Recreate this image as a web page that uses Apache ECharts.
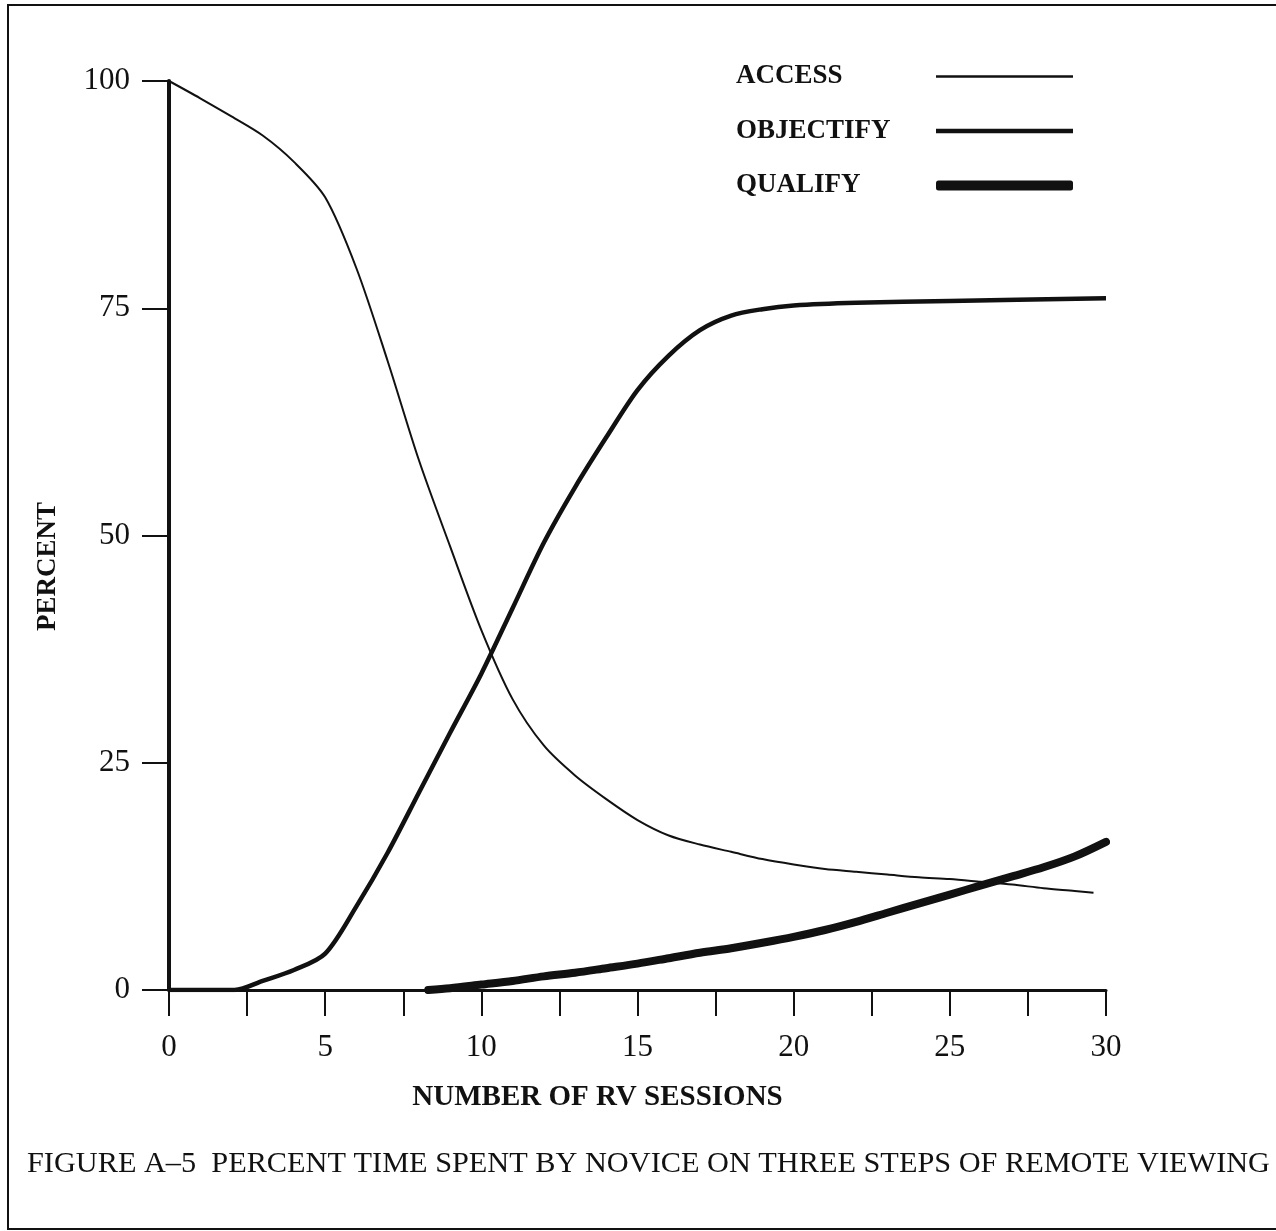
<!DOCTYPE html>
<html>
<head>
<meta charset="utf-8">
<title>Figure A-5</title>
<script src="https://cdn.jsdelivr.net/npm/echarts@6/dist/echarts.min.js"></script>
<style>
  html, body { margin: 0; padding: 0; background: #fff; }
  #main { width: 1276px; height: 1231px; }
</style>
</head>
<body>
<div id="main"></div>
<script>
// values
var accessX = [0, 1, 2, 3, 4, 5, 6, 7, 8, 9, 10, 11, 12, 13, 14, 15, 16, 17, 18, 19, 20, 21, 22, 23, 24, 25, 26, 27, 28, 29, 29.6];
var accessY = [100, 98.1, 96.1, 94.0, 91.1, 87.2, 79.4, 69.2, 58.3, 48.8, 39.6, 32.0, 26.9, 23.6, 21.0, 18.7, 17.0, 16.0, 15.2, 14.4, 13.8, 13.3, 13.0, 12.7, 12.4, 12.2, 11.9, 11.6, 11.2, 10.9, 10.7];

var objectifyX = [0, 1, 2.1, 3, 4, 5, 6, 7, 8, 9, 10, 11, 12, 13, 14, 15, 16, 17, 18, 19, 20, 22, 25, 30];
var objectifyY = [0, 0, 0, 1.0, 2.2, 4.0, 9.2, 15.1, 21.7, 28.3, 34.8, 42.0, 49.2, 55.3, 60.8, 66.0, 69.8, 72.6, 74.2, 74.9, 75.3, 75.6, 75.8, 76.1];

var qualifyX = [8.3, 9, 10, 11, 12, 13, 14, 15, 16, 17, 18, 19, 20, 21, 22, 23, 24, 25, 26, 27, 28, 29, 30];
var qualifyY = [0, 0.2, 0.6, 1.0, 1.5, 1.9, 2.4, 2.9, 3.5, 4.1, 4.6, 5.2, 5.85, 6.6, 7.5, 8.5, 9.5, 10.5, 11.5, 12.5, 13.5, 14.7, 16.3];

var yTicks = [0, 25, 50, 75, 100];
var caption = 'FIGURE A\u20135  PERCENT TIME SPENT BY NOVICE ON THREE STEPS OF REMOTE VIEWING';

var ink = '#111';
var serif = '"Liberation Serif", "Times New Roman", serif';

function pairs(xs, ys) {
  return xs.map(function (x, i) { return [x, ys[i]]; });
}

var chart = echarts.init(document.getElementById('main'));

var option = {
  backgroundColor: '#fff',
  animation: false,
  title: {
    text: caption,
    left: 22,
    top: 1144,
    textStyle: { fontFamily: serif, fontSize: 30.3, fontWeight: 'normal', color: ink }
  },
  legend: {
    orient: 'vertical',
    left: 731,
    top: 58,
    align: 'right',
    itemWidth: 137,
    itemHeight: 10,
    itemGap: 27.5,
    formatter: '{n|{name}}',
    textStyle: {
      rich: {
        n: { width: 195, align: 'left', lineHeight: 30, fontFamily: serif, fontSize: 27, fontWeight: 'bold', color: ink }
      }
    },
    data: [
      { name: 'ACCESS', icon: 'path://M0,0H137V2.5H0Z' },
      { name: 'OBJECTIFY', icon: 'path://M0,0H137V4.5H0Z' },
      { name: 'QUALIFY', icon: 'roundRect' }
    ]
  },
  graphic: [
    // frame of the scanned page
    { type: 'polyline', shape: { points: [[1290, 5], [8, 5], [8, 1229], [1290, 1229]] },
      style: { stroke: ink, lineWidth: 2, fill: null }, silent: true }
  ],
  grid: { left: 169, right: 170, top: 81, bottom: 241 },
  xAxis: {
    type: 'value',
    min: 0,
    max: 30,
    interval: 2.5,
    name: 'NUMBER OF RV SESSIONS',
    nameLocation: 'middle',
    nameGap: 93,
    nameTextStyle: { fontFamily: serif, fontSize: 29, fontWeight: 'bold', color: ink, padding: [0, 80, 0, 0] },
    axisLine: { lineStyle: { color: ink, width: 3 } },
    axisTick: { length: 26, lineStyle: { color: ink, width: 2 } },
    axisLabel: {
      margin: 42,
      fontFamily: serif, fontSize: 31, color: ink,
      formatter: function (v) { return v % 5 === 0 ? String(v) : ''; }
    },
    splitLine: { show: false }
  },
  yAxis: {
    type: 'value',
    min: 0,
    max: 100,
    interval: 25,
    name: 'PERCENT',
    nameLocation: 'middle',
    nameGap: 107,
    nameTextStyle: { fontFamily: serif, fontSize: 27, fontWeight: 'bold', color: ink, padding: [0, 62, 0, 0] },
    axisLine: { show: true, lineStyle: { color: ink, width: 4 } },
    axisTick: { show: true, length: 27, lineStyle: { color: ink, width: 2 } },
    axisLabel: {
      margin: 39,
      fontFamily: serif, fontSize: 31, color: ink,
      formatter: function (v) { return yTicks.indexOf(v) >= 0 ? String(v) : ''; }
    },
    splitLine: { show: false }
  },
  series: [
    {
      name: 'ACCESS', type: 'line', smooth: 0.3, symbol: 'none',
      itemStyle: { color: ink },
      lineStyle: { color: ink, width: 2 },
      data: pairs(accessX, accessY)
    },
    {
      name: 'OBJECTIFY', type: 'line', smooth: 0.3, symbol: 'none',
      itemStyle: { color: ink },
      lineStyle: { color: ink, width: 4.5 },
      data: pairs(objectifyX, objectifyY)
    },
    {
      name: 'QUALIFY', type: 'line', smooth: 0.3, symbol: 'none',
      itemStyle: { color: ink },
      lineStyle: { color: ink, width: 8, cap: 'round' },
      data: pairs(qualifyX, qualifyY)
    }
  ]
};

chart.setOption(option);
</script>
</body>
</html>
